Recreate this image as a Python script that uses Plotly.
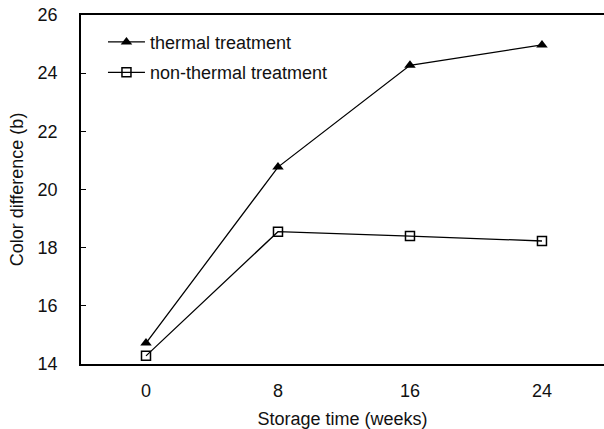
import plotly.graph_objects as go

weeks = [0, 8, 16, 24]
thermal = [14.72, 20.77, 24.27, 24.97]
non_thermal = [14.28, 18.55, 18.40, 18.23]
x_ticks = [0, 8, 16, 24]
y_ticks = [14, 16, 18, 20, 22, 24, 26]

FONT = "Liberation Sans, Arial, sans-serif"

fig = go.Figure()
fig.add_trace(go.Scatter(
    x=weeks, y=thermal, name="thermal treatment", mode="lines+markers",
    legendgroup="a",
    line=dict(color="black", width=1.3),
    marker=dict(symbol="triangle-up", size=10, color="black"),
))
fig.add_trace(go.Scatter(
    x=weeks, y=non_thermal, name="non-thermal treatment", mode="lines+markers",
    legendgroup="b",
    line=dict(color="black", width=1.3),
    marker=dict(symbol="square-open", size=9, color="black", line=dict(width=1.5)),
))

fig.update_layout(
    width=604, height=429,
    margin=dict(l=81, r=0, t=15, b=65),
    paper_bgcolor="white", plot_bgcolor="white",
    font=dict(family=FONT, size=18, color="#111"),
    showlegend=True,
    legend=dict(x=0.042, y=0.975, xanchor="left", yanchor="top",
                bgcolor="rgba(0,0,0,0)", font=dict(size=18),
                tracegroupgap=4, itemwidth=37),
    xaxis=dict(
        range=[-3.94, 27.76], tickvals=x_ticks, ticktext=[str(v) for v in x_ticks],
        showline=True, linecolor="black", linewidth=1.5, mirror=True,
        showgrid=False, zeroline=False, ticks="", ticklabelstandoff=10,
        tickfont=dict(size=18),
        title=dict(text="Storage time (weeks)", standoff=12, font=dict(size=18)),
    ),
    yaxis=dict(
        range=[14, 26], tickvals=y_ticks,
        showline=True, linecolor="black", linewidth=1.5, mirror=False,
        showgrid=False, zeroline=False, ticks="inside", ticklen=5, tickcolor="black",
        ticklabelstandoff=18, tickfont=dict(size=18),
        title=dict(text="Color difference (b)", standoff=9, font=dict(size=18)),
    ),
)

fig.write_html("out.html")
